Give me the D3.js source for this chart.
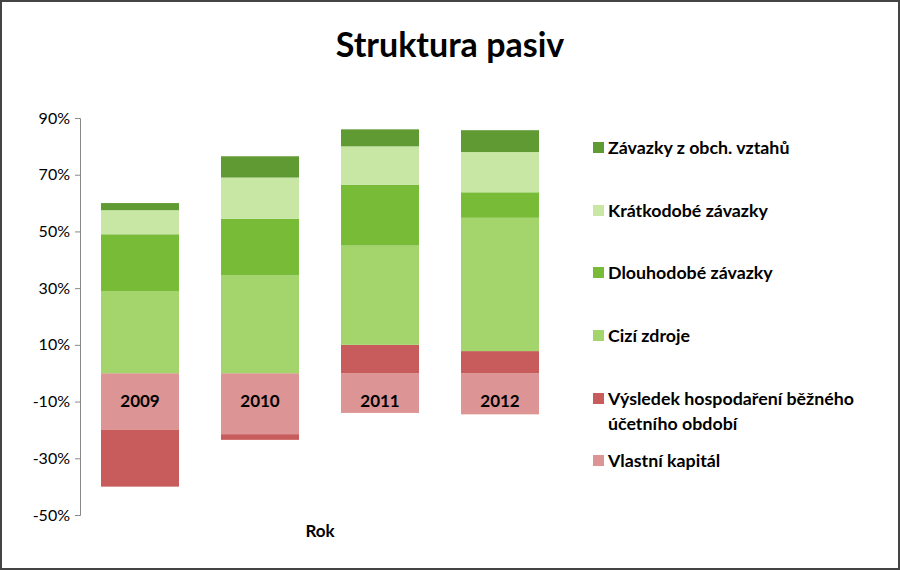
<!DOCTYPE html>
<html><head><meta charset="utf-8">
<script src="https://cdn.jsdelivr.net/npm/d3@7"></script>
<style>body{margin:0;background:#fff}text{font-family:Lato,"Open Sans",sans-serif}</style>
</head><body>
<svg id="chart" width="900" height="570"></svg>
<script>
var years = ["2009", "2010", "2011", "2012"];
var seriesNames = ["Vlastní kapitál", "Výsledek hospodaření běžného účetního období", "Cizí zdroje",
    "Dlouhodobé závazky", "Krátkodobé závazky", "Závazky z obch. vztahů"];
var vlastniKapital = [-20, -21.5, -14, -14.5];
var vysledek = [-20, -2, 10, 7.8];
var ciziZdroje = [29, 34.5, 35, 47];
var dlouhodobe = [20, 20, 21.5, 9];
var kratkodobe = [8.5, 14.5, 13.5, 14.2];
var zavazkyObch = [2.5, 7.5, 6, 7.7];
var colors = ["#dc9494", "#c85c5c", "#a4d46c", "#78bb36", "#c8e6a4", "#5f9a33"];
var tickValues = [-50, -30, -10, 10, 30, 50, 70, 90];

var svg = d3.select("#chart");
svg.append("rect").attr("x", 1).attr("y", 1).attr("width", 898).attr("height", 568)
    .attr("fill", "#fff").attr("stroke", "#444").attr("stroke-width", 2);

svg.append("text").attr("x", 450).attr("y", 57).attr("text-anchor", "middle")
    .style("font-size", "34px").style("font-weight", "bold").text("Struktura pasiv");

var all = [vlastniKapital, vysledek, ciziZdroje, dlouhodobe, kratkodobe, zavazkyObch];
var rows = years.map(function (y, i) {
    var r = {year: y};
    seriesNames.forEach(function (s, j) { r[s] = all[j][i]; });
    return r;
});
var stack = d3.stack().keys(seriesNames).offset(d3.stackOffsetDiverging);
var layers = stack(rows);

var x = d3.scaleBand().domain(years).range([80, 560]).paddingInner(0.35).paddingOuter(0.175);
var y = d3.scaleLinear().domain([-50, 90]).range([515, 118]);

svg.append("g").selectAll("g").data(layers).enter().append("g")
    .attr("fill", function (d, i) { return colors[i]; })
    .selectAll("rect").data(function (d) { return d; }).enter().append("rect")
    .attr("x", function (d) { return x(d.data.year); })
    .attr("width", x.bandwidth())
    .attr("y", function (d) { return y(Math.max(d[0], d[1])); })
    .attr("height", function (d) { return Math.abs(y(d[0]) - y(d[1])); });

var yAxis = d3.axisLeft(y).tickValues(tickValues).tickSize(5).tickFormat(function (d) { return d + "%"; });
var ga = svg.append("g").attr("transform", "translate(80,0)").call(yAxis);
ga.select(".domain").attr("stroke", "#888").attr("d", "M-5,118.5H0.5V515.5H-5");
ga.selectAll(".tick line").attr("stroke", "#888");
ga.selectAll(".tick text").style("font-size", "16px").attr("fill", "#000").attr("x", -10);

svg.append("g").selectAll("text").data(years).enter().append("text")
    .attr("x", function (d) { return x(d) + x.bandwidth() / 2; })
    .attr("y", 407).attr("text-anchor", "middle")
    .style("font-size", "17px").style("font-weight", "bold").text(function (d) { return d; });

svg.append("text").attr("x", 320).attr("y", 537).attr("text-anchor", "middle")
    .style("font-size", "17px").style("font-weight", "bold").text("Rok");

// legend, top entry is last series
var legendRows = [
    {i: 5, y: 148, lines: ["Závazky z obch. vztahů"]},
    {i: 4, y: 211, lines: ["Krátkodobé závazky"]},
    {i: 3, y: 273, lines: ["Dlouhodobé závazky"]},
    {i: 2, y: 336, lines: ["Cizí zdroje"]},
    {i: 1, y: 399, lines: ["Výsledek hospodaření běžného", "účetního období"]},
    {i: 0, y: 461, lines: ["Vlastní kapitál"]}
];
var lg = svg.append("g").selectAll("g").data(legendRows).enter().append("g");
lg.append("rect").attr("x", 593).attr("y", function (d) { return d.y - 6; })
    .attr("width", 11).attr("height", 11).attr("fill", function (d) { return colors[d.i]; });
lg.append("text").attr("x", 608).attr("y", function (d) { return d.y + 6; })
    .style("font-size", "17.8px").style("font-weight", "bold")
    .selectAll("tspan").data(function (d) { return d.lines; }).enter().append("tspan")
    .attr("x", 608).attr("dy", function (d, i) { return i ? 25 : 0; }).text(function (d) { return d; });
</script>
</body></html>
